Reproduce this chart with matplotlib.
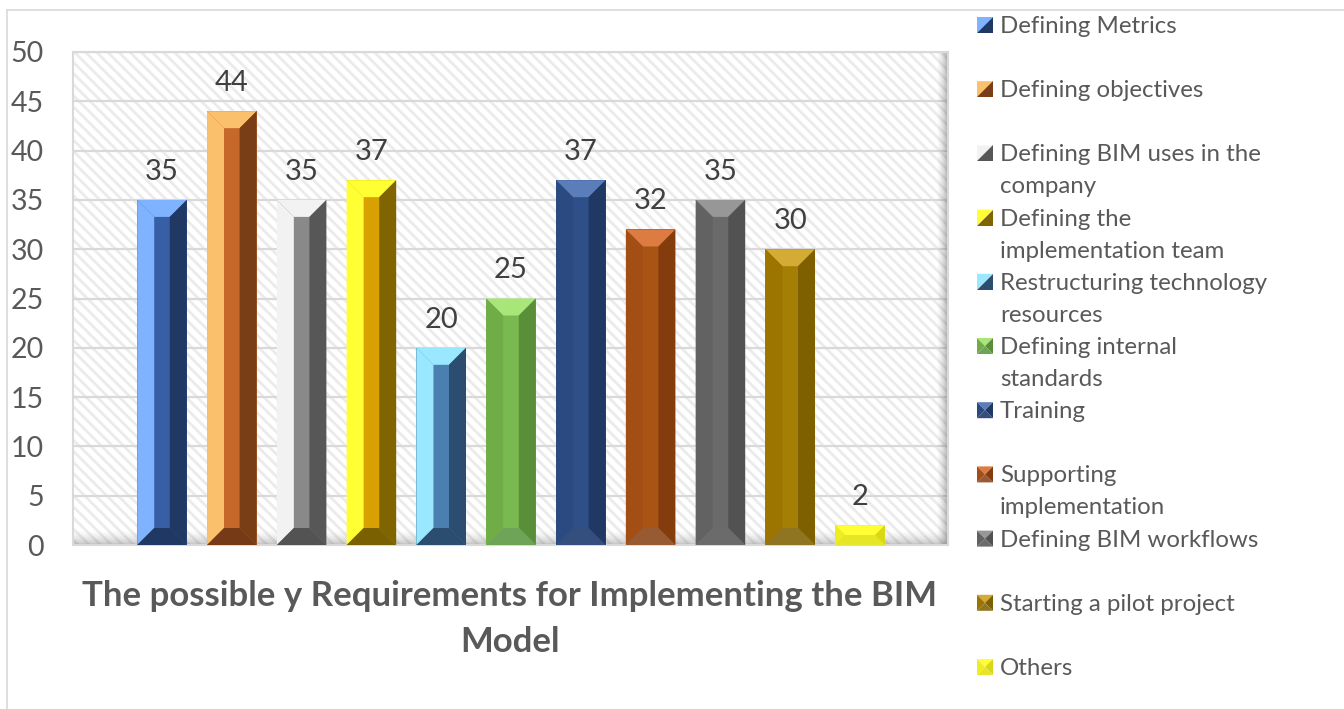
import matplotlib
matplotlib.use('Agg')
import numpy as np
import matplotlib.pyplot as plt
from matplotlib.patches import Polygon, Rectangle
from matplotlib.lines import Line2D

plt.rcParams['font.family'] = ['Lato', 'DejaVu Sans']
plt.rcParams['hatch.linewidth'] = 2.0

categories = ['Defining Metrics',
              'Defining objectives',
              'Defining BIM uses in the\ncompany',
              'Defining the\nimplementation team',
              'Restructuring technology\nresources',
              'Defining internal\nstandards',
              'Training',
              'Supporting\nimplementation',
              'Defining BIM workflows',
              'Starting a pilot project',
              'Others']
values = [35, 44, 35, 37, 20, 25, 37, 32, 35, 30, 2]
yticks = [0, 5, 10, 15, 20, 25, 30, 35, 40, 45, 50]
title = ['The possible y Requirements for Implementing the BIM', 'Model']

# kolory scianek slupka: gora, lewa, srodek, prawa, dol
shades = [
    ('#7fb2ff', '#7fb2ff', '#375fa6', '#203864', '#203864'),
    ('#fbc06b', '#fbc06b', '#c5682a', '#7a3e17', '#763b16'),
    ('#f2f2f2', '#f2f2f2', '#898989', '#575757', '#535353'),
    ('#ffff33', '#ffff33', '#d8a000', '#806400', '#7a6000'),
    ('#99e8ff', '#99e8ff', '#4b7fb0', '#2b4d6f', '#2b4d6f'),
    ('#a9e67a', '#70ad47', '#7ab94f', '#5a8f3a', '#6ea457'),
    ('#5b7db9', '#2b4a82', '#2e4f88', '#1f3864', '#344f7d'),
    ('#dc7c42', '#a34e14', '#a95315', '#843c0c', '#985a33'),
    ('#979797', '#626262', '#6a6a6a', '#525252', '#6b6b6b'),
    ('#d4ab35', '#9c7400', '#a47e05', '#7f6000', '#8f7422'),
    ('#ffff33', '#eded22', '#e6e619', '#d8d816', '#e6e626'),
]

W, H = 1344, 709
fig = plt.figure(figsize=(W / 100, H / 100), dpi=100)


def fx(x):
    return x / W


def fy(y):
    return 1 - y / H


# ramka calego wykresu
fig.add_artist(Line2D([fx(7), 1], [fy(10), fy(10)], color='#d9d9d9', lw=1.2))
fig.add_artist(Line2D([fx(7), fx(7)], [fy(10), 0], color='#d9d9d9', lw=1.2))

ax = fig.add_axes([fx(73), fy(545), (948 - 73) / W, (545 - 52) / H])
xlim = (-1.275, len(values) - 1 + 1.26)

# tlo w paski
ax.add_patch(Rectangle((0, 0), 1, 1, transform=ax.transAxes, facecolor='white',
                       edgecolor='#ebebeb', linewidth=0, hatch='\\\\\\', zorder=0))

# cienie na scianie
grad = np.zeros((1, 30, 4))
grad[..., :3] = 0.3
grad[0, :, 3] = np.linspace(0, 0.6, 30) ** 1.6
ax.imshow(grad, extent=(1 - 12 / 875, 1, 0, 1), transform=ax.transAxes,
          aspect='auto', interpolation='bilinear', zorder=1)
gradb = np.zeros((30, 1, 4))
gradb[..., :3] = 0.3
gradb[:, 0, 3] = np.linspace(0, 0.5, 30) ** 1.6
ax.imshow(gradb, extent=(0, 1, 0, 16 / 493), transform=ax.transAxes,
          aspect='auto', interpolation='bilinear', zorder=1)

ax.set_xlim(*xlim)
ax.set_ylim(0, 50)
ax.set_yticks(yticks)
ax.set_xticks([])
ax.yaxis.grid(True, color='#d9d9d9', linewidth=1.6, zorder=1.2)
ax.set_axisbelow(True)
ax.tick_params(axis='y', length=0, pad=21, labelsize=20.5, labelcolor='#595959')
for s in ax.spines.values():
    s.set_color('#d9d9d9')
    s.set_linewidth(1.5)

x = np.arange(len(values))
w = 0.71
mids = [s[2] for s in shades]
bars = ax.bar(x, values, width=w, color=mids, linewidth=0, zorder=3)
ax.bar_label(bars, padding=11, fontsize=21, color='#404040')

# fazowanie slupkow
px_x = 875 / (xlim[1] - xlim[0])
px_y = 493 / 50
for i, v in enumerate(values):
    top, left, mid, right, bottom = shades[i]
    x0, x1 = i - w / 2, i + w / 2
    bp = min(17, v * px_y / 2)
    bx, by = bp / px_x, bp / px_y
    xi0, xi1, yi0, yi1 = x0 + bx, x1 - bx, by, v - by
    polys = [
        ([(x0, v), (x1, v), (xi1, yi1), (xi0, yi1)], top),
        ([(x0, 0), (x0, v), (xi0, yi1), (xi0, yi0)], left),
        ([(x1, v), (x1, 0), (xi1, yi0), (xi1, yi1)], right),
        ([(x0, 0), (x1, 0), (xi1, yi0), (xi0, yi0)], bottom),
    ]
    for pts, c in polys:
        ax.add_patch(Polygon(pts, closed=True, facecolor=c, edgecolor='none', zorder=4))

# legenda
for i, lab in enumerate(categories):
    base = 33 + 64.2 * i
    top, left, mid, right, bottom = shades[i]
    mx0, mx1, my0, my1 = 977, 993, base - 16, base
    cx, cy = (mx0 + mx1) / 2, (my0 + my1) / 2
    if i < 5:
        tris = [([(mx0, my0), (mx1, my0), (mx0, my1)], top),
                ([(mx1, my0), (mx1, my1), (mx0, my1)], right)]
    else:
        tris = [([(mx0, my0), (mx1, my0), (cx, cy)], top),
                ([(mx0, my0), (mx0, my1), (cx, cy)], left),
                ([(mx1, my0), (mx1, my1), (cx, cy)], right),
                ([(mx0, my1), (mx1, my1), (cx, cy)], bottom)]
    for pts, c in tris:
        fig.add_artist(Polygon([(fx(a), fy(b)) for a, b in pts], closed=True,
                               facecolor=c, edgecolor='none', transform=fig.transFigure))
    for k, line in enumerate(lab.split('\n')):
        fig.text(fx(1000), fy(base + 32 * k), line, fontsize=17.3, color='#595959',
                 va='baseline', ha='left')

# tytul pod wykresem
for k, line in enumerate(title):
    fig.text(fx(510), fy(606 + 46 * k), line, fontsize=25, fontweight='bold',
             color='#595959', ha='center', va='baseline')

fig.savefig('out.png', dpi=100)
